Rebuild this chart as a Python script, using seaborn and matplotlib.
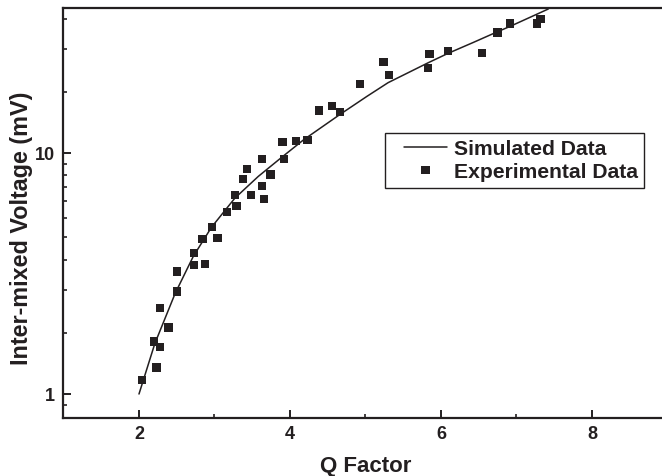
import matplotlib
matplotlib.use("Agg")
import matplotlib.pyplot as plt
import seaborn as sns
from matplotlib.ticker import FixedLocator, NullFormatter
from matplotlib.lines import Line2D
from matplotlib.collections import PathCollection
from matplotlib.legend_handler import HandlerLine2D, HandlerPathCollection


# experimental points (Q factor, voltage in mV)
q_exp = [2.04, 2.23, 2.20, 2.28, 2.39, 2.28, 2.50, 2.50, 2.73, 2.87,
         2.73, 2.84, 3.04, 2.97, 3.17, 3.29, 3.27, 3.48, 3.38, 3.43,
         3.63, 3.66, 3.74, 3.63, 3.92, 3.90, 4.08, 4.23, 4.38, 4.56,
         4.66, 4.93, 5.24, 5.31, 5.85, 5.83, 6.09, 6.54, 6.75, 6.91,
         7.27, 7.32]
v_exp = [1.14, 1.29, 1.65, 1.57, 1.89, 2.28, 2.66, 3.22, 3.43, 3.46,
         3.84, 4.39, 4.45, 4.94, 5.71, 6.04, 6.69, 6.69, 7.78, 8.58,
         7.30, 6.44, 8.16, 9.44, 9.44, 11.1, 11.25, 11.3, 15.0, 15.7,
         14.8, 19.3, 23.9, 21.1, 25.7, 22.5, 26.5, 26.1, 31.6, 34.5,
         34.5, 36.0]

# simulated curve
q_sim = [2.00, 2.21, 2.48, 2.72, 2.96, 3.27, 3.58, 3.89, 4.18, 4.66,
         5.02, 5.30, 5.83, 6.09, 6.43, 6.74, 6.91, 7.42]
v_sim = [1.00, 1.62, 2.62, 3.73, 4.92, 6.50, 8.00, 9.60, 11.35, 14.45,
         17.2, 19.6, 23.7, 25.9, 28.8, 31.8, 33.5, 39.6]

ink = '#231f20'

sns.set_style("ticks")
plt.rcParams['font.family'] = ['Liberation Sans', 'DejaVu Sans']
plt.rcParams['font.weight'] = 'bold'

fig = plt.figure(figsize=(6.62, 4.76), dpi=100)
ax = fig.add_axes([0.0959, 0.1218, 0.9124, 0.8614])

sns.lineplot(x=q_sim, y=v_sim, ax=ax, color=ink, linewidth=1.1,
             sort=False, label='Simulated Data')
sns.scatterplot(x=q_exp, y=v_exp, ax=ax, marker='s', s=36, color=ink,
                edgecolor='none', linewidth=0, label='Experimental Data')

ax.set_yscale('log')
ax.set_xlim(1, 9)
ax.set_ylim(0.795, 40)

# ticks
ax.xaxis.set_major_locator(FixedLocator([2, 4, 6, 8]))
ax.xaxis.set_minor_locator(FixedLocator([3, 5, 7]))
ax.yaxis.set_major_locator(FixedLocator([1, 10]))
ax.yaxis.set_minor_locator(FixedLocator([0.9, 1.8, 2.7, 3.6, 4.5, 5.4, 6.3,
                                         7.2, 8.1, 9.0, 18, 27, 36]))
ax.yaxis.set_minor_formatter(NullFormatter())
ax.set_yticklabels(['1', '10'])
ax.tick_params(which='major', direction='in', length=6, width=1.4,
               labelsize=13, pad=6, color=ink, labelcolor=ink)
ax.tick_params(which='minor', direction='in', length=3, width=1.2, color=ink)
for lab in ax.get_xticklabels() + ax.get_yticklabels():
    lab.set_fontweight('bold')

for sp in ax.spines.values():
    sp.set_linewidth(1.6)
    sp.set_color(ink)

ax.set_xlabel('Q Factor', fontsize=16, fontweight='bold', color=ink)
ax.set_ylabel('Inter-mixed Voltage (mV)', fontsize=16.8, fontweight='bold', color=ink)
ax.xaxis.set_label_coords(0.5, -0.118)
ax.yaxis.set_label_coords(-0.069, 0.463)
ax.xaxis.label.set_va('center')
ax.yaxis.label.set_va('center')

handler_map = {Line2D: HandlerLine2D(xpad=0.6),
               PathCollection: HandlerPathCollection(xpad=0.6)}
leg = ax.legend(loc='upper left', bbox_to_anchor=(385 / 662, 1 - 133 / 476),
                bbox_transform=fig.transFigure, borderaxespad=0,
                fontsize=15.2, frameon=True, fancybox=False, framealpha=1,
                edgecolor=ink, handlelength=2.6, handletextpad=0.33,
                borderpad=0.32, labelspacing=0.18, scatteryoffsets=[0.5],
                handler_map=handler_map)
leg.get_frame().set_linewidth(1.0)
for t in leg.get_texts():
    t.set_fontweight('bold')
    t.set_color(ink)

fig.savefig('out.png', dpi=100)
